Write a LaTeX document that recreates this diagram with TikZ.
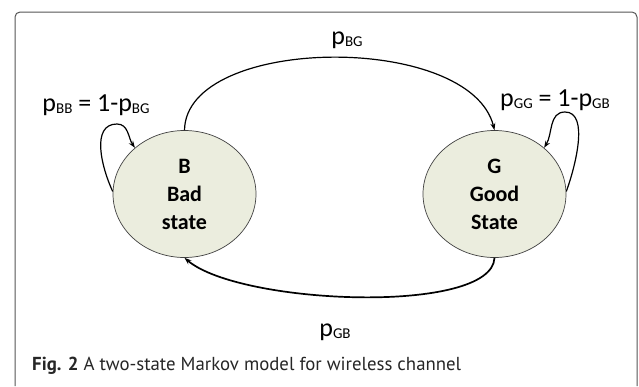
\documentclass[tikz,border=0pt]{standalone}
\usepackage{fontspec}
\setmainfont{Carlito}
\newfontfamily\capfont{PT Sans}
\usetikzlibrary{shapes.geometric,arrows.meta}
\definecolor{stfill}{RGB}{235,237,222}
\definecolor{framegray}{RGB}{85,85,85}
\newcommand\psub[1]{p\raisebox{-2pt}{\fontsize{15}{16}\selectfont #1}}
\begin{document}
\begin{tikzpicture}[x=1pt,y=-1pt,
  state/.style={ellipse, draw=black!75, line width=0.7pt, fill=stfill,
    minimum width=143pt, minimum height=127pt, inner sep=0pt, align=center,
    font=\fontsize{22}{28}\selectfont\bfseries},
  lab/.style={font=\fontsize{26}{30}\selectfont, inner sep=0pt},
  trans/.style={line width=1.2pt, -{Stealth[length=7pt,width=5pt]}}]
\useasboundingbox (0,0) rectangle (639,386);
\draw[framegray, line width=1pt, rounded corners=5pt] (15,386) -- (15,12) -- (637,12) -- (637,386);

\node[state] (B) at (184.5,194) {B\\Bad\\state};
\node[state] (G) at (494.5,194) {G\\Good\\State};

\coordinate (btop) at (117,124);
\coordinate (gtop) at (565,112);

\draw[trans] (B.north) .. controls (186,35) and (470,32) .. (G.north);
\draw[trans, line width=1.7pt] (G.south) .. controls (492,315) and (240,305) .. (B.south);
\draw[trans] (B.178) to[out=115,in=180] (btop) to[out=0,in=125] (B.137);
\draw[trans] (G.2) to[out=70,in=0,looseness=0.8] (gtop) to[out=180,in=58] (G.43);

\node[lab] (lbg) at (347,40) {\psub{BG}};
\node[lab] (lbb) at (96,105) {\psub{BB} = 1-\psub{BG}};
\node[lab] (lgg) at (555,100) {\psub{GG} = 1-\psub{GB}};
\node[lab] (lgb) at (335,332) {\psub{GB}};

\node[anchor=base west, inner sep=0pt, text=black!85,
  font=\capfont\fontsize{18.8}{20}\selectfont] (cap) at (32,370)
  {\textbf{Fig. 2} A two-state Markov model for wireless channel};
\end{tikzpicture}
\end{document}
